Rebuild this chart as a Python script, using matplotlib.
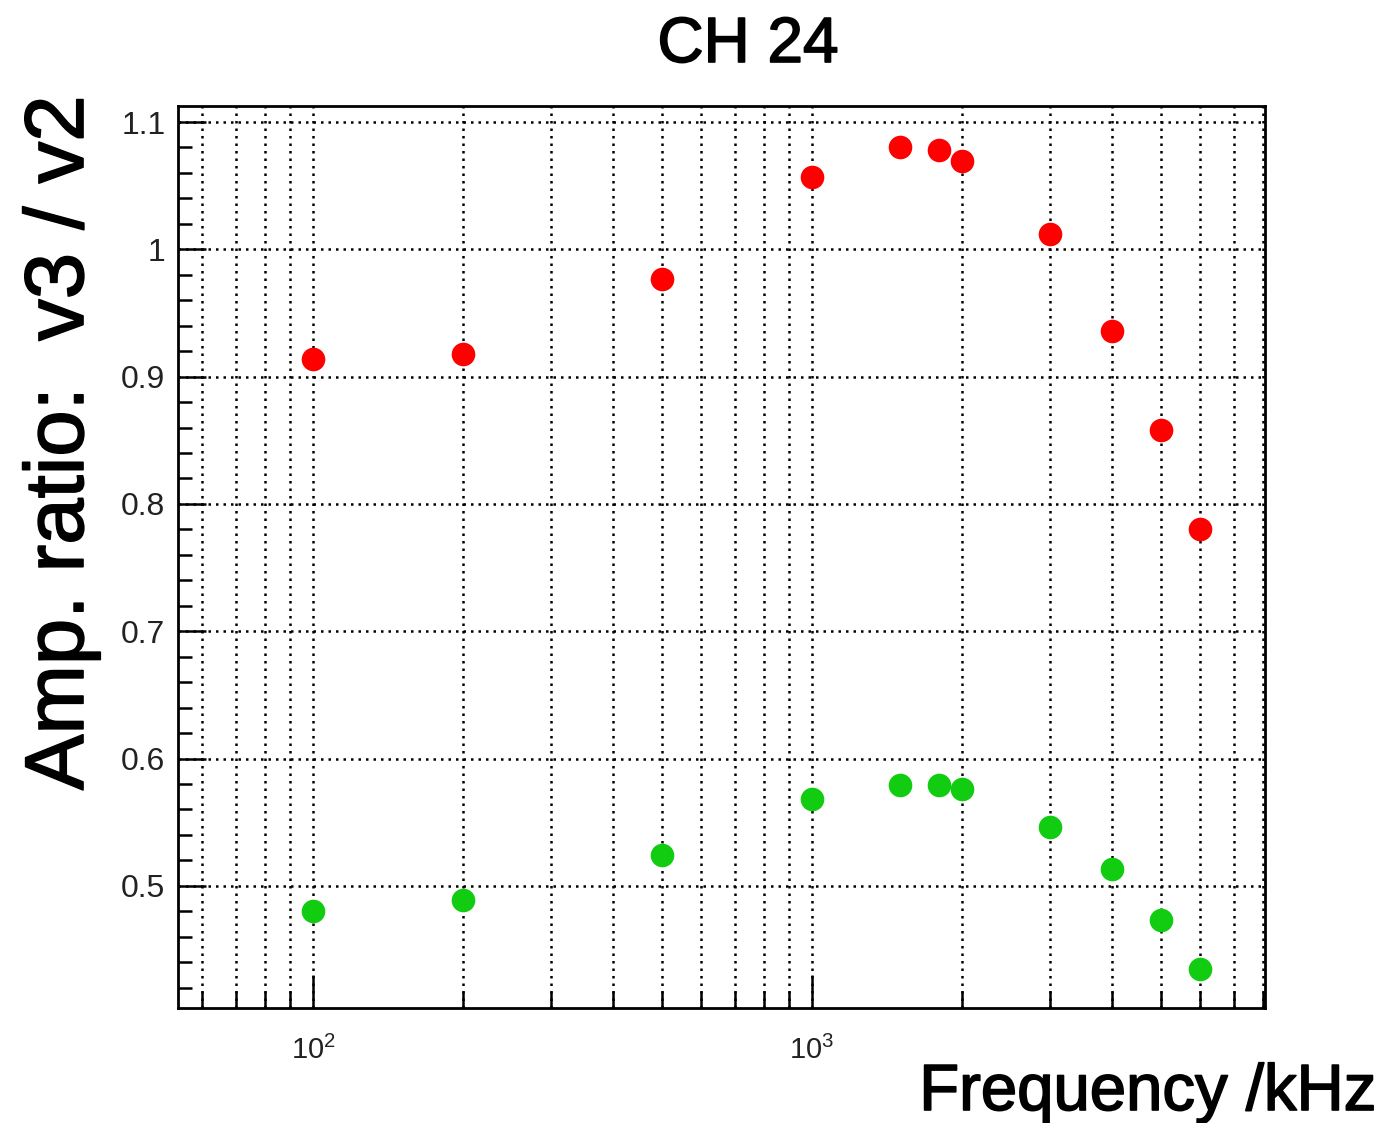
import numpy as np
import matplotlib.pyplot as plt
import matplotlib.patheffects as pe
from matplotlib.ticker import FixedLocator, MultipleLocator, NullFormatter

plt.rcParams['font.family'] = ['Liberation Sans', 'DejaVu Sans']
plt.rcParams['mathtext.fontset'] = 'custom'
plt.rcParams['mathtext.rm'] = 'Liberation Sans'
plt.rcParams['mathtext.it'] = 'Liberation Sans'

# data
freq = [100, 200, 500, 1000, 1500, 1800, 2000, 3000, 4000, 5000, 6000]
ratio_red = [0.914, 0.918, 0.977, 1.057, 1.080, 1.078, 1.069, 1.012, 0.936, 0.858, 0.780]
ratio_green = [0.480, 0.489, 0.524, 0.568, 0.579, 0.579, 0.576, 0.546, 0.513, 0.473, 0.435]
xtick_vals = [100, 1000]
xtick_labels = [r'$10^{2}$', r'$10^{3}$']

W, H = 1388, 1123
fig = plt.figure(figsize=(W / 100, H / 100), dpi=100)
ax = fig.add_axes([178 / W, 1 - 1008 / H, (1265 - 178) / W, (1008 - 106) / H])

ax.set_xscale('log')
ax.set_xlim(53.6, 8090)
ax.set_ylim(0.404, 1.1126)

ax.plot(freq, ratio_red, 'o', color='#ff0000', markersize=17, markeredgewidth=0, zorder=5)
ax.plot(freq, ratio_green, 'o', color='#11cc11', markersize=17, markeredgewidth=0, zorder=5)

# ticks
ax.xaxis.set_major_locator(FixedLocator(xtick_vals))
ax.set_xticklabels(xtick_labels)
ax.xaxis.set_minor_locator(FixedLocator([60, 70, 80, 90, 200, 300, 400, 500, 600, 700, 800, 900,
                                         2000, 3000, 4000, 5000, 6000, 7000, 8000]))
ax.xaxis.set_minor_formatter(NullFormatter())
ax.yaxis.set_major_locator(MultipleLocator(0.1))
ax.yaxis.set_minor_locator(MultipleLocator(0.02))
ax.yaxis.set_major_formatter(plt.FuncFormatter(lambda v, p: ('%.1f' % v).rstrip('0').rstrip('.') if abs(v - 1) > 1e-9 else '1'))

ax.tick_params(which='both', direction='in', top=False, right=False, width=1.8, color='black')
ax.tick_params(axis='y', which='major', length=20, labelsize=23, pad=9, labelcolor='#222222')
ax.tick_params(axis='y', which='minor', length=10)
ax.tick_params(axis='x', which='major', length=24, labelsize=21, pad=20, labelcolor='#222222')
ax.tick_params(axis='x', which='minor', length=12)

# grid
ax.grid(True, axis='x', which='both', color='black', linestyle=(0, (1, 2)), linewidth=1.8)
ax.grid(True, axis='y', which='major', color='black', linestyle=(0, (1, 2)), linewidth=1.8)
ax.set_axisbelow(True)

for s in ax.spines.values():
    s.set_linewidth(2)

thick = [pe.withStroke(linewidth=1.2, foreground='black')]
fig.text(748 / W, 1 - 45 / H, 'CH 24', ha='center', va='center', fontsize=46, path_effects=thick)
fig.text(61 / W, 1 - 95 / H, 'Amp. ratio:  v3 / v2', rotation=90, ha='center', va='top',
         fontsize=60, path_effects=thick)
fig.text(1376 / W, 1 - 1093 / H, 'Frequency /kHz', ha='right', va='center', fontsize=47,
         path_effects=thick)

fig.savefig('out.png', dpi=100)
